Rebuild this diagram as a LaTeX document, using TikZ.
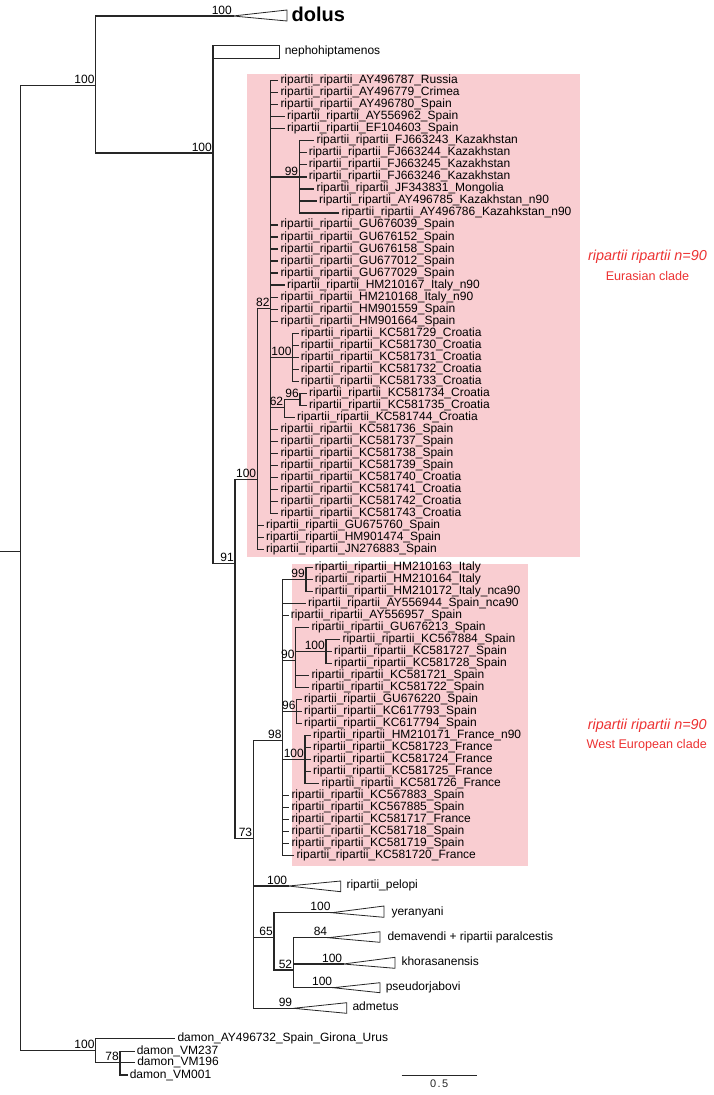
\documentclass[tikz,border=0pt]{standalone}
\usepackage{fontspec}
\setmainfont{Liberation Sans}
\usepackage{xcolor}
\usepackage{tikz}
\usetikzlibrary{positioning,calc}
\definecolor{cladepink}{RGB}{249,205,209}
\definecolor{cladered}{RGB}{236,50,50}
\tikzset{
  br/.style={line width=1.2pt, draw=black!85, line cap=rect},
  clps/.style={line width=0.8pt, draw=black!85},
  tip/.style={anchor=west, inner xsep=2.6pt, inner ysep=0pt, text height=8.6pt, text depth=2.5pt, font=\fontsize{12}{12}\selectfont},
  boot/.style={anchor=south east, inner xsep=1pt, inner ysep=1.6pt, text height=8.6pt, text depth=0pt, font=\fontsize{12}{12}\selectfont},
  cladetxt/.style={text=cladered, inner sep=0pt}
}

\begin{document}
\begin{tikzpicture}[x=1pt, y=-1pt]
  \useasboundingbox (0,0) rectangle (714,1095);

  % highlighted clades
  \fill[cladepink] (246.7,74) rectangle (580,556.7);
  \fill[cladepink] (291.7,564) rectangle (528.3,866);

  % internal nodes
  \coordinate (rootstub) at (0,551.7);
  \coordinate (root) at (20.7,551.7);
  \coordinate (top) at (95.7,85.7);
  \coordinate (dolus) at (233,16);
  \coordinate (ingrp) at (213,153);
  \coordinate (neph) at (213,45.3);
  \coordinate (n91) at (235,563.3);
  \coordinate (eur) at (257.3,479.5);
  \coordinate (n82) at (270.7,308.3);
  \coordinate (n99k) at (299.3,176.9);
  \coordinate (n100c) at (292.7,357.2);
  \coordinate (n62) at (284.3,407.5);
  \coordinate (n96c) at (300,399.2);
  \coordinate (n73) at (253.3,838.3);
  \coordinate (n98) at (282.7,740.7);
  \coordinate (n99w) at (306,579.5);
  \coordinate (n90) at (295.7,660.5);
  \coordinate (n100s) at (326,651.5);
  \coordinate (n96w) at (296.7,711.5);
  \coordinate (n100f) at (305,759.5);
  \coordinate (pelopi) at (288.3,886);
  \coordinate (n65) at (274,937.3);
  \coordinate (yeran) at (331.7,912.7);
  \coordinate (n52) at (293.3,970);
  \coordinate (demav) at (328.3,937.7);
  \coordinate (khor) at (343.3,964);
  \coordinate (pseud) at (333.3,987.7);
  \coordinate (admet) at (293.3,1008.3);
  \coordinate (ndam) at (95.7,1050.7);
  \coordinate (n78) at (120,1062.3);

  % Eurasian clade tips
  \node[tip] (e0) at (277.7,80.7) {ripartii\_ripartii\_AY496787\_Russia};
  \node[tip] (e1) at (277.7,92.7) {ripartii\_ripartii\_AY496779\_Crimea};
  \node[tip] (e2) at (277.7,104.7) {ripartii\_ripartii\_AY496780\_Spain};
  \node[tip] (e3) at (284.3,116.8) {ripartii\_ripartii\_AY556962\_Spain};
  \node[tip] (e4) at (284.3,128.8) {ripartii\_ripartii\_EF104603\_Spain};
  \node[tip] (e5) at (313.7,140.8) {ripartii\_ripartii\_FJ663243\_Kazakhstan};
  \node[tip] (e6) at (306,152.8) {ripartii\_ripartii\_FJ663244\_Kazakhstan};
  \node[tip] (e7) at (306,164.8) {ripartii\_ripartii\_FJ663245\_Kazakhstan};
  \node[tip] (e8) at (306,176.9) {ripartii\_ripartii\_FJ663246\_Kazakhstan};
  \node[tip] (e9) at (313.7,188.9) {ripartii\_ripartii\_JF343831\_Mongolia};
  \node[tip] (e10) at (316.3,200.9) {ripartii\_ripartii\_AY496785\_Kazakhstan\_n90};
  \node[tip] (e11) at (338.7,212.9) {ripartii\_ripartii\_AY496786\_Kazahkstan\_n90};
  \node[tip] (e12) at (277.7,224.9) {ripartii\_ripartii\_GU676039\_Spain};
  \node[tip] (e13) at (277.7,237.0) {ripartii\_ripartii\_GU676152\_Spain};
  \node[tip] (e14) at (277.7,249.0) {ripartii\_ripartii\_GU676158\_Spain};
  \node[tip] (e15) at (277.7,261.0) {ripartii\_ripartii\_GU677012\_Spain};
  \node[tip] (e16) at (277.7,273.0) {ripartii\_ripartii\_GU677029\_Spain};
  \node[tip] (e17) at (284.3,285.0) {ripartii\_ripartii\_HM210167\_Italy\_n90};
  \node[tip] (e18) at (277.7,297.1) {ripartii\_ripartii\_HM210168\_Italy\_n90};
  \node[tip] (e19) at (277.7,309.1) {ripartii\_ripartii\_HM901559\_Spain};
  \node[tip] (e20) at (277.7,321.1) {ripartii\_ripartii\_HM901664\_Spain};
  \node[tip] (e21) at (298,333.1) {ripartii\_ripartii\_KC581729\_Croatia};
  \node[tip] (e22) at (298,345.1) {ripartii\_ripartii\_KC581730\_Croatia};
  \node[tip] (e23) at (298,357.2) {ripartii\_ripartii\_KC581731\_Croatia};
  \node[tip] (e24) at (298,369.2) {ripartii\_ripartii\_KC581732\_Croatia};
  \node[tip] (e25) at (298,381.2) {ripartii\_ripartii\_KC581733\_Croatia};
  \node[tip] (e26) at (306.3,393.2) {ripartii\_ripartii\_KC581734\_Croatia};
  \node[tip] (e27) at (306.3,405.2) {ripartii\_ripartii\_KC581735\_Croatia};
  \node[tip] (e28) at (294.3,417.3) {ripartii\_ripartii\_KC581744\_Croatia};
  \node[tip] (e29) at (277.7,429.3) {ripartii\_ripartii\_KC581736\_Spain};
  \node[tip] (e30) at (277.7,441.3) {ripartii\_ripartii\_KC581737\_Spain};
  \node[tip] (e31) at (277.7,453.3) {ripartii\_ripartii\_KC581738\_Spain};
  \node[tip] (e32) at (277.7,465.3) {ripartii\_ripartii\_KC581739\_Spain};
  \node[tip] (e33) at (277.7,477.4) {ripartii\_ripartii\_KC581740\_Croatia};
  \node[tip] (e34) at (277.7,489.4) {ripartii\_ripartii\_KC581741\_Croatia};
  \node[tip] (e35) at (277.7,501.4) {ripartii\_ripartii\_KC581742\_Croatia};
  \node[tip] (e36) at (277.7,513.4) {ripartii\_ripartii\_KC581743\_Croatia};
  \node[tip] (e37) at (263.3,525.4) {ripartii\_ripartii\_GU675760\_Spain};
  \node[tip] (e38) at (263.3,537.5) {ripartii\_ripartii\_HM901474\_Spain};
  \node[tip] (e39) at (263.3,549.5) {ripartii\_ripartii\_JN276883\_Spain};

  % West European clade tips
  \node[tip] (w0) at (312,567.5) {ripartii\_ripartii\_HM210163\_Italy};
  \node[tip] (w1) at (312,579.5) {ripartii\_ripartii\_HM210164\_Italy};
  \node[tip] (w2) at (312,591.5) {ripartii\_ripartii\_HM210172\_Italy\_nca90};
  \node[tip] (w3) at (305.3,603.5) {ripartii\_ripartii\_AY556944\_Spain\_nca90};
  \node[tip] (w4) at (288,615.5) {ripartii\_ripartii\_AY556957\_Spain};
  \node[tip] (w5) at (308.7,627.5) {ripartii\_ripartii\_GU676213\_Spain};
  \node[tip] (w6) at (339.7,639.5) {ripartii\_ripartii\_KC567884\_Spain};
  \node[tip] (w7) at (331.3,651.5) {ripartii\_ripartii\_KC581727\_Spain};
  \node[tip] (w8) at (331.3,663.5) {ripartii\_ripartii\_KC581728\_Spain};
  \node[tip] (w9) at (308.7,675.5) {ripartii\_ripartii\_KC581721\_Spain};
  \node[tip] (w10) at (308.7,687.5) {ripartii\_ripartii\_KC581722\_Spain};
  \node[tip] (w11) at (301.3,699.5) {ripartii\_ripartii\_GU676220\_Spain};
  \node[tip] (w12) at (301.3,711.5) {ripartii\_ripartii\_KC617793\_Spain};
  \node[tip] (w13) at (301.3,723.5) {ripartii\_ripartii\_KC617794\_Spain};
  \node[tip] (w14) at (310.3,735.5) {ripartii\_ripartii\_HM210171\_France\_n90};
  \node[tip] (w15) at (310.3,747.5) {ripartii\_ripartii\_KC581723\_France};
  \node[tip] (w16) at (310.3,759.5) {ripartii\_ripartii\_KC581724\_France};
  \node[tip] (w17) at (310.3,771.5) {ripartii\_ripartii\_KC581725\_France};
  \node[tip] (w18) at (318.7,783.5) {ripartii\_ripartii\_KC581726\_France};
  \node[tip] (w19) at (288.7,795.5) {ripartii\_ripartii\_KC567883\_Spain};
  \node[tip] (w20) at (288.7,807.5) {ripartii\_ripartii\_KC567885\_Spain};
  \node[tip] (w21) at (288.7,819.5) {ripartii\_ripartii\_KC581717\_France};
  \node[tip] (w22) at (288.7,831.5) {ripartii\_ripartii\_KC581718\_Spain};
  \node[tip] (w23) at (288.7,843.5) {ripartii\_ripartii\_KC581719\_Spain};
  \node[tip] (w24) at (293.7,855.5) {ripartii\_ripartii\_KC581720\_France};

  % outgroup tips
  \node[tip] (d1) at (174.7,1038.5) {damon\_AY496732\_Spain\_Girona\_Urus};
  \node[tip] (d2) at (134,1051.7) {damon\_VM237};
  \node[tip] (d3) at (134.5,1062.5) {damon\_VM196};
  \node[tip] (d4) at (127,1075) {damon\_VM001};

  % branches: one vertical per node, then a horizontal to each child
  \draw[br] (rootstub) -- (root);
  \draw[br] (root |- top) -- (root |- ndam) (root |- top) -- (top) (root |- ndam) -- (ndam);
  \draw[br] (top |- dolus) -- (top |- ingrp) (top |- dolus) -- (dolus) (top |- ingrp) -- (ingrp);
  \draw[br] (ingrp |- neph) -- (ingrp |- n91) (ingrp |- n91) -- (n91);
  \draw[br] (n91 |- eur) -- (n91 |- n73) (n91 |- eur) -- (eur) (n91 |- n73) -- (n73);
  \draw[br] (eur |- n82) -- (eur |- e39) (eur |- n82) -- (n82)
    (eur |- e37) -- (e37) (eur |- e38) -- (e38) (eur |- e39) -- (e39);
  \draw[br] (n82 |- e0) -- (n82 |- e36)
    (n82 |- e0) -- (e0) (n82 |- e1) -- (e1) (n82 |- e2) -- (e2) (n82 |- e3) -- (e3)
    (n82 |- e4) -- (e4) (n82 |- n99k) -- (n99k) (n82 |- e12) -- (e12) (n82 |- e13) -- (e13)
    (n82 |- e14) -- (e14) (n82 |- e15) -- (e15) (n82 |- e16) -- (e16) (n82 |- e17) -- (e17)
    (n82 |- e18) -- (e18) (n82 |- e19) -- (e19) (n82 |- e20) -- (e20) (n82 |- n100c) -- (n100c)
    (n82 |- n62) -- (n62) (n82 |- e29) -- (e29) (n82 |- e30) -- (e30) (n82 |- e31) -- (e31)
    (n82 |- e32) -- (e32) (n82 |- e33) -- (e33) (n82 |- e34) -- (e34) (n82 |- e35) -- (e35)
    (n82 |- e36) -- (e36);
  \draw[br] (n99k |- e5) -- (n99k |- e11)
    (n99k |- e5) -- (e5) (n99k |- e6) -- (e6) (n99k |- e7) -- (e7) (n99k |- e8) -- (e8)
    (n99k |- e9) -- (e9) (n99k |- e10) -- (e10) (n99k |- e11) -- (e11);
  \draw[br] (n100c |- e21) -- (n100c |- e25)
    (n100c |- e21) -- (e21) (n100c |- e22) -- (e22) (n100c |- e23) -- (e23)
    (n100c |- e24) -- (e24) (n100c |- e25) -- (e25);
  \draw[br] (n62 |- n96c) -- (n62 |- e28) (n62 |- n96c) -- (n96c) (n62 |- e28) -- (e28);
  \draw[br] (n96c |- e26) -- (n96c |- e27) (n96c |- e26) -- (e26) (n96c |- e27) -- (e27);
  \draw[br] (n73 |- n98) -- (n73 |- admet) (n73 |- n98) -- (n98) (n73 |- pelopi) -- (pelopi)
    (n73 |- n65) -- (n65) (n73 |- admet) -- (admet);
  \draw[br] (n98 |- n99w) -- (n98 |- w24)
    (n98 |- n99w) -- (n99w) (n98 |- w3) -- (w3) (n98 |- w4) -- (w4) (n98 |- n90) -- (n90)
    (n98 |- n96w) -- (n96w) (n98 |- n100f) -- (n100f) (n98 |- w19) -- (w19) (n98 |- w20) -- (w20)
    (n98 |- w21) -- (w21) (n98 |- w22) -- (w22) (n98 |- w23) -- (w23) (n98 |- w24) -- (w24);
  \draw[br] (n99w |- w0) -- (n99w |- w2) (n99w |- w0) -- (w0) (n99w |- w1) -- (w1) (n99w |- w2) -- (w2);
  \draw[br] (n90 |- w5) -- (n90 |- w10) (n90 |- w5) -- (w5) (n90 |- n100s) -- (n100s)
    (n90 |- w9) -- (w9) (n90 |- w10) -- (w10);
  \draw[br] (n100s |- w6) -- (n100s |- w8) (n100s |- w6) -- (w6) (n100s |- w7) -- (w7) (n100s |- w8) -- (w8);
  \draw[br] (n96w |- w11) -- (n96w |- w13) (n96w |- w11) -- (w11) (n96w |- w12) -- (w12) (n96w |- w13) -- (w13);
  \draw[br] (n100f |- w14) -- (n100f |- w18)
    (n100f |- w14) -- (w14) (n100f |- w15) -- (w15) (n100f |- w16) -- (w16)
    (n100f |- w17) -- (w17) (n100f |- w18) -- (w18);
  \draw[br] (n65 |- yeran) -- (n65 |- n52) (n65 |- yeran) -- (yeran) (n65 |- n52) -- (n52);
  \draw[br] (n52 |- demav) -- (n52 |- pseud) (n52 |- demav) -- (demav) (n52 |- khor) -- (khor)
    (n52 |- pseud) -- (pseud);
  \draw[br] (ndam |- d1) -- (ndam |- n78) (ndam |- d1) -- (d1) (ndam |- n78) -- (n78);
  \draw[br] (n78 |- d2) -- (n78 |- d4) (n78 |- d2) -- (d2) (n78 |- d3) -- (d3) (n78 |- d4) -- (d4);

  % collapsed clades
  \draw[clps] (dolus) -- ++(54,-6) -- ++(0,11) -- cycle;
  \draw[clps] (neph) -- ++(66.3,0) -- ++(0,13) -- ++(-66.3,0);
  \draw[br] (neph) -- ++(14,0);
  \draw[clps] (pelopi) -- ++(52.4,-5) -- ++(0,10.7) -- cycle;
  \draw[clps] (yeran) -- ++(52.3,-6.7) -- ++(0,11.3) -- cycle;
  \draw[clps] (demav) -- ++(51.7,-6) -- ++(0,10.6) -- cycle;
  \draw[clps] (khor) -- ++(51.7,-6.7) -- ++(0,11) -- cycle;
  \draw[clps] (pseud) -- ++(46.7,-5) -- ++(0,10) -- cycle;
  \draw[clps] (admet) -- ++(53.4,-5.6) -- ++(0,10.6) -- cycle;

  \node[anchor=west, inner sep=0pt, font=\bfseries\fontsize{20}{20}\selectfont] (dolusl) at (291.5,14.2) {dolus};
  \node[tip] (nephl) at (282,51) {nephohiptamenos};
  \node[tip] (pelopil) at (343.7,885) {ripartii\_pelopi};
  \node[tip] (yeranl) at (388.7,912) {yeranyani};
  \node[tip] (demavl) at (384.7,937.5) {demavendi + ripartii paralcestis};
  \node[tip] (khorl) at (398.7,962.5) {khorasanensis};
  \node[tip] (pseudl) at (383,987.5) {pseudorjabovi};
  \node[tip] (admetl) at (349.7,1007.5) {admetus};

  % support values
  \node[boot] (btop) at (top) {100};
  \node[boot] (bdolus) at (dolus) {100};
  \node[boot] (bingrp) at (ingrp) {100};
  \node[boot] (b91) at (n91) {91};
  \node[boot] (beur) at (eur) {100};
  \node[boot] (b82) at (n82) {82};
  \node[boot] (b99k) at (n99k) {99};
  \node[boot] (b100c) at (n100c) {100};
  \node[boot] (b62) at (n62) {62};
  \node[boot] (b96c) at (n96c) {96};
  \node[boot] (b73) at (n73) {73};
  \node[boot] (b98) at (n98) {98};
  \node[boot] (b99w) at (n99w) {99};
  \node[boot] (b90) at (n90) {90};
  \node[boot] (b100s) at (n100s) {100};
  \node[boot] (b96w) at (n96w) {96};
  \node[boot] (b100f) at (n100f) {100};
  \node[boot] (bpelopi) at (pelopi) {100};
  \node[boot] (b65) at (n65) {65};
  \node[boot] (byeran) at (yeran) {100};
  \node[boot] (b52) at (n52) {52};
  \node[boot] (bdemav) at (demav) {84};
  \node[boot] (bkhor) at (khor) {100};
  \node[boot] (bpseud) at (pseud) {100};
  \node[boot] (badmet) at (admet) {99};
  \node[boot] (bdam) at (ndam) {100};
  \node[boot] (b78) at (n78) {78};

  % clade names
  \node[cladetxt, font=\itshape\fontsize{14.4}{14.4}\selectfont] (eurname) at (647.5,257) {ripartii ripartii n=90};
  \node[cladetxt, font=\fontsize{12.6}{12.6}\selectfont] (eurclade) at (647.5,275.5) {Eurasian clade};
  \node[cladetxt, font=\itshape\fontsize{14.4}{14.4}\selectfont] (wesname) at (647.3,726) {ripartii ripartii n=90};
  \node[cladetxt, font=\fontsize{12.6}{12.6}\selectfont] (wesclade) at (646.7,745) {West European clade};

  % scale bar
  \coordinate (sbL) at (401.7,1075);
  \coordinate (sbR) at (476.7,1075);
  \draw[line width=0.9pt, black!85] (sbL) -- (sbR) node[midway, below=4pt, inner sep=0pt, font=\fontsize{11}{11}\selectfont] (sblab) {0\kern1.5pt.\kern1.5pt5};
\end{tikzpicture}
\end{document}
